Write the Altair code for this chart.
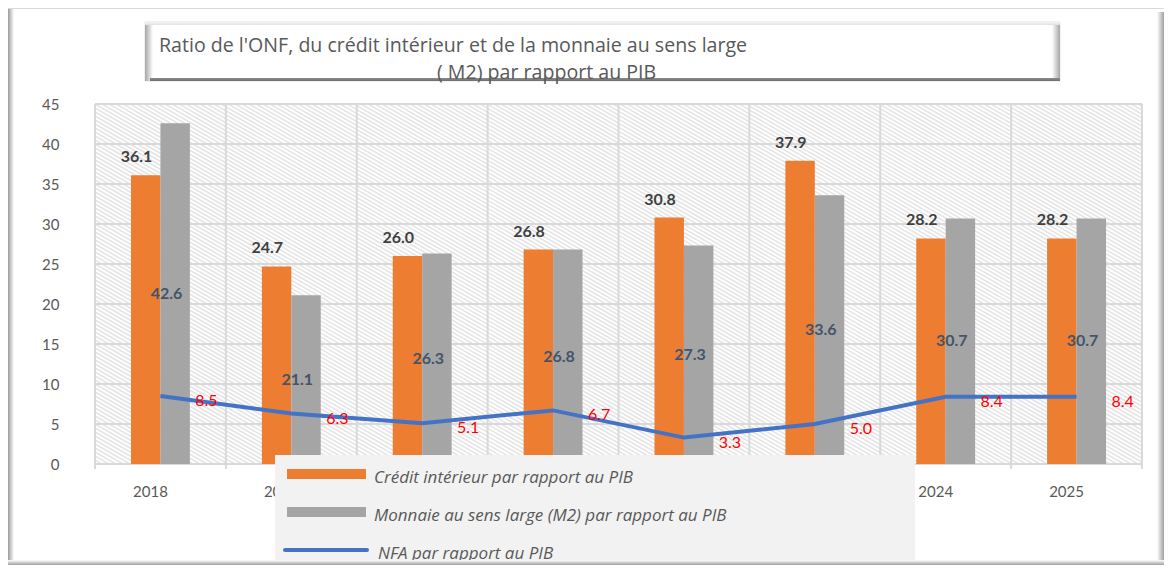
import altair as alt
import pandas as pd

# ---------------- data ----------------
years = ["2018", "2019", "2020", "2021", "2022", "2023", "2024", "2025"]
credit = [36.1, 24.7, 26.0, 26.8, 30.8, 37.9, 28.2, 28.2]
m2 = [42.6, 21.1, 26.3, 26.8, 27.3, 33.6, 30.7, 30.7]
nfa = [8.5, 6.3, 5.1, 6.7, 3.3, 5.0, 8.4, 8.4]
y_ticks = [0, 5, 10, 15, 20, 25, 30, 35, 40, 45]

S1 = "Crédit intérieur par rapport au PIB"
S2 = "Monnaie au sens large (M2) par rapport au PIB"
S3 = "NFA par rapport au PIB"
title_1 = "Ratio de l'ONF, du crédit intérieur et de la monnaie au sens large"
title_2 = "( M2) par rapport au PIB"

# ---------------- styling ----------------
FONT = "Lato"
TFONT = "Open Sans"
ORANGE = "#ed7d31"
GRAY = "#a5a5a5"
BLUE = "#4472c4"
GRID = "#d9d9d9"
TXT = "#595959"

W, H = 1047, 360
PAD = {"left": 87, "top": 96, "right": 22, "bottom": 101}

bars_df = pd.DataFrame({"year": years * 2,
                        "series": [S1] * len(years) + [S2] * len(years),
                        "value": credit + m2})
cred_df = pd.DataFrame({"year": years, "value": credit})
m2_df = pd.DataFrame({"year": years, "value": m2})
nfa_df = pd.DataFrame({"year": years, "value": nfa})
tick_df = pd.DataFrame({"value": y_ticks})
one = pd.DataFrame({"k": [0]})

xscale = alt.Scale(domain=years, paddingInner=0.55, paddingOuter=0.275)
yscale = alt.Scale(domain=[0, 45], nice=False, zero=True)

x_axis = alt.Axis(title=None, domain=False, ticks=False, grid=False,
                  labelFont=FONT, labelFontSize=15, labelColor=TXT,
                  labelPadding=20, labelOffset=-10, labelAngle=0)
y_axis = alt.Axis(title=None, values=y_ticks, domain=False, ticks=False,
                  grid=False, labelFont=FONT, labelFontSize=15,
                  labelColor=TXT, labelPadding=36)
X = alt.X("year:N", scale=xscale, sort=years, axis=x_axis)
Y = alt.Y("value:Q", scale=yscale, axis=y_axis)

# ---------------- background hatch ----------------
step = 7
run = 630
hx = [-run + step * k for k in range(int((W + run) / step) + 2)]
hatch_df = pd.DataFrame({"hx": hx, "hx2": [v + run for v in hx]})
hatch = alt.Chart(hatch_df).mark_rule(clip=True, color="#e5e5e5", strokeWidth=1.6).encode(
    x=alt.X("hx:Q", scale=None), x2="hx2:Q", y=alt.value(0), y2=alt.value(H))

hgrid = alt.Chart(tick_df).mark_rule(color=GRID, strokeWidth=2).encode(y=Y)

vgrid_df = pd.DataFrame({"gx": [i * W / len(years) for i in range(len(years) + 1)]})
vgrid = alt.Chart(vgrid_df).mark_rule(color=GRID, strokeWidth=2).encode(
    x=alt.X("gx:Q", scale=None), y=alt.value(0), y2=alt.value(H + 5))

# ---------------- data marks ----------------
bars = alt.Chart(bars_df).mark_bar().encode(
    x=X,
    xOffset=alt.XOffset("series:N", sort=[S1, S2],
                        scale=alt.Scale(paddingInner=0, paddingOuter=0)),
    y=Y,
    color=alt.Color("series:N", scale=alt.Scale(domain=[S1, S2], range=[ORANGE, GRAY]),
                    legend=None))

line = alt.Chart(nfa_df).mark_line(color=BLUE, strokeWidth=4).encode(x=X, y=Y)

lab_credit = alt.Chart(cred_df).mark_text(
    dx=-24, dy=-18, font=FONT, fontSize=16, fontWeight="bold", color="#404040",
    baseline="middle").encode(x=X, y=Y, text=alt.Text("value:Q", format=".1f"))

lab_m2 = alt.Chart(m2_df).transform_calculate(mid="datum.value / 2").mark_text(
    dx=6, font=FONT, fontSize=16, fontWeight="bold", color="#44546a",
    baseline="middle").encode(
    x=X, y=alt.Y("mid:Q", scale=yscale, axis=y_axis),
    text=alt.Text("value:Q", format=".1f"))

lab_nfa = alt.Chart(nfa_df).mark_text(
    dx=46, dy=5, font=FONT, fontSize=16, color="#ff0000",
    baseline="middle").encode(x=X, y=Y, text=alt.Text("value:Q", format=".1f"))


# ---------------- decorations (legend, title box, frame) ----------------
def box(x1, x2, y1, y2, **kw):
    return alt.Chart(one).mark_rect(**kw).encode(
        x=alt.value(x1), x2=alt.value(x2), y=alt.value(y1), y2=alt.value(y2))


def label(x, y, s, **kw):
    kw.setdefault("font", FONT)
    return alt.Chart(one).mark_text(align="left", baseline="middle", **kw).encode(
        x=alt.value(x), y=alt.value(y), text=alt.value(s))


def grad(c1, c2, horizontal=True):
    return alt.Gradient(gradient="linear",
                        stops=[alt.GradientStop(color=c1, offset=0),
                               alt.GradientStop(color=c2, offset=1)],
                        x1=0, x2=1 if horizontal else 0, y1=0, y2=0 if horizontal else 1)


legend_layers = [
    box(180, 820, 351, 461, color="#f2f2f2"),
    box(192, 271, 365, 375, color=ORANGE),
    box(192, 271, 403, 413, color=GRAY),
    alt.Chart(one).mark_rule(color=BLUE, strokeWidth=4, strokeCap="round").encode(
        x=alt.value(190), x2=alt.value(272), y=alt.value(446)),
    label(279, 374, S1, font=TFONT, fontSize=17, fontStyle="italic", color=TXT),
    label(279, 412, S2, font=TFONT, fontSize=17, fontStyle="italic", color=TXT),
    label(283, 450, S3, font=TFONT, fontSize=17, fontStyle="italic", color=TXT),
]

title_layers = [
    box(50, 965, -82, -23, color="#ffffff", stroke="#e3e3e3", strokeWidth=1),
    box(50, 58, -82, -23, color=grad("#a6a6a6", "#ffffff")),
    box(957, 965, -82, -23, color=grad("#ffffff", "#a6a6a6")),
    box(50, 965, -82, -79, color=grad("#f5f5f5", "#e0e0e0", horizontal=False)),
    box(55, 965, -26, -23, color=grad("#8c8c8c", "#6f6f6f", horizontal=False)),
    label(64, -58, title_1, font=TFONT, fontSize=19.6, color=TXT),
    label(342, -31, title_2, font=TFONT, fontSize=19.6, color=TXT),
]

frame_layers = [
    box(-87, 1069, -96, -95, color="#d9d9d9"),
    box(-87, -81, -95, 461, color=grad("#9a9a9a", "#ffffff")),
    box(1062, 1069, -92, 461, color=grad("#ffffff", "#a0a0a0")),
    box(-87, 1069, 456, 461, color=grad("#ffffff", "#a0a0a0", horizontal=False)),
]

chart = alt.layer(
    hatch, hgrid, vgrid, bars, line, lab_credit, lab_m2, lab_nfa,
    *legend_layers, *title_layers, *frame_layers
).properties(
    width=W, height=H,
    autosize=alt.AutoSizeParams(type="none"),
    padding=PAD,
    background="white",
).configure_view(stroke=None)

chart.save("out.html", embed_options={"renderer": "svg", "actions": False})
